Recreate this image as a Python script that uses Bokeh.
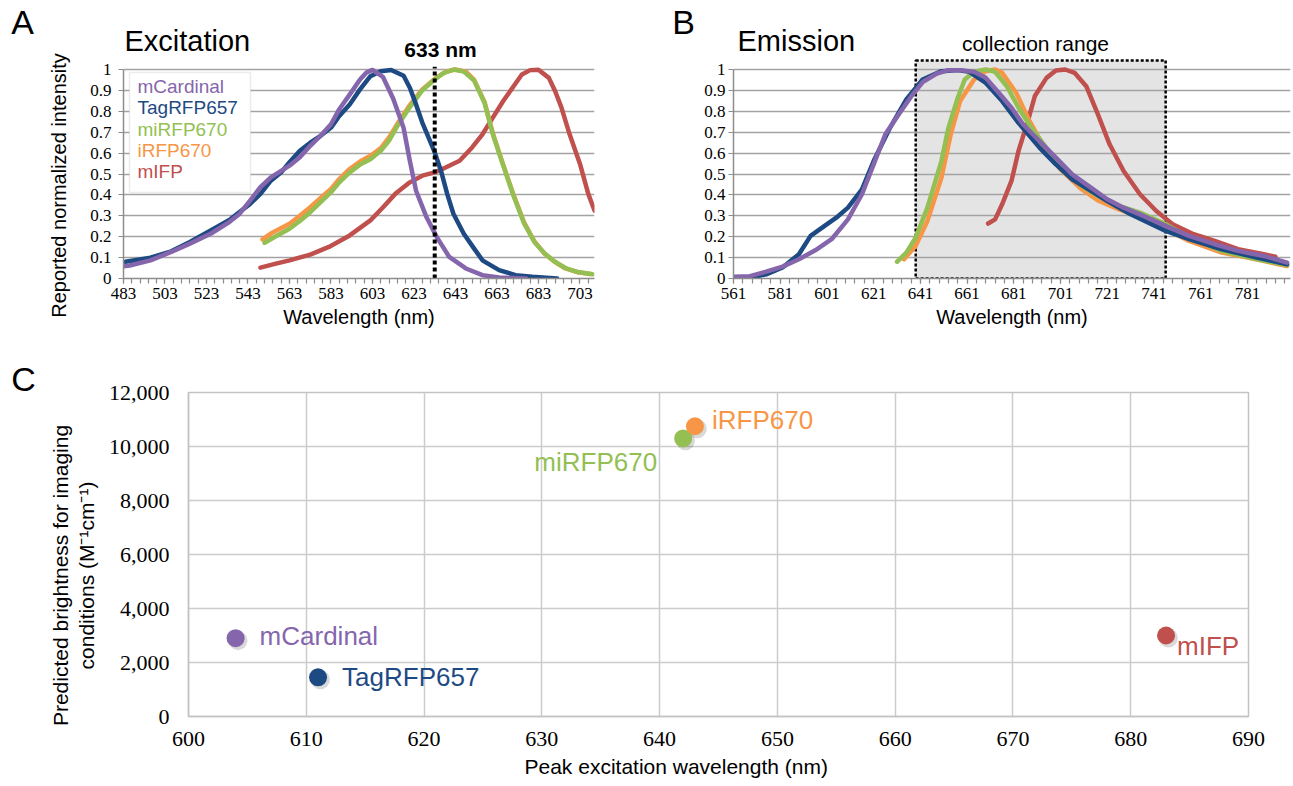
import math
from bokeh.plotting import figure
from bokeh.layouts import column, row
from bokeh.models import (FixedTicker, CustomJSTickFormatter, NumeralTickFormatter,
                          Label, BoxAnnotation, Range1d, Title)
from bokeh.embed import file_html
from bokeh.resources import INLINE
from bokeh.core.properties import value

SANS = "Liberation Sans"
SERIF = "Liberation Serif"

# ---------------- data ----------------
proteins = ["mCardinal", "TagRFP657", "miRFP670", "iRFP670", "mIFP"]
protein_colors = ["#8566ad", "#1e4a84", "#93bf53", "#f79646", "#c0504d"]

# Panel A: excitation spectra (wavelength nm, normalized intensity)
ex_mcardinal_nm = [483, 486, 496, 506, 515, 525, 534, 539, 544, 549, 554, 559, 563, 568, 573, 578, 583, 587,
                   592, 597, 600, 603, 608, 613, 618, 621, 624, 629, 634, 640, 648, 656, 664, 677]
ex_mcardinal = [0.058, 0.062, 0.087, 0.127, 0.167, 0.214, 0.27, 0.31, 0.373, 0.437, 0.484, 0.515, 0.54, 0.58,
                0.635, 0.683, 0.738, 0.81, 0.88, 0.952, 0.985, 0.998, 0.965, 0.86, 0.72, 0.563, 0.42, 0.294,
                0.198, 0.103, 0.048, 0.016, 0.005, 0.0]
ex_tagrfp657_nm = [484, 496, 506, 515, 525, 534, 544, 549, 554, 559, 563, 568, 573, 578, 583, 587, 592, 597,
                   602, 607, 612, 618, 621, 624, 627, 630, 633, 636, 639, 642, 647, 652, 656, 664, 672, 680, 692]
ex_tagrfp657 = [0.08, 0.1, 0.13, 0.175, 0.23, 0.28, 0.357, 0.405, 0.468, 0.508, 0.556, 0.611, 0.65, 0.683,
                0.722, 0.778, 0.833, 0.905, 0.968, 0.992, 0.998, 0.97, 0.913, 0.833, 0.746, 0.675, 0.603,
                0.516, 0.405, 0.31, 0.214, 0.143, 0.087, 0.04, 0.016, 0.008, 0.0]
ex_mirfp670_nm = [551, 556, 563, 568, 573, 578, 583, 587, 592, 597, 602, 607, 611, 615, 621, 627, 633, 637,
                  642, 647, 652, 657, 661, 666, 671, 676, 681, 686, 691, 696, 702, 709]
ex_mirfp670 = [0.171, 0.2, 0.238, 0.275, 0.317, 0.365, 0.413, 0.46, 0.508, 0.545, 0.571, 0.611, 0.66, 0.73,
               0.82, 0.9, 0.952, 0.982, 1.0, 0.99, 0.947, 0.84, 0.69, 0.54, 0.395, 0.265, 0.175, 0.12, 0.08,
               0.05, 0.031, 0.02]
ex_irfp670_nm = [550, 554, 563, 568, 573, 578, 583, 587, 592, 597, 602, 607, 611, 615, 621, 627, 633, 638,
                 643, 648, 652, 657, 661, 666, 671, 676, 681, 686, 691, 696, 702, 708]
ex_irfp670 = [0.187, 0.215, 0.262, 0.3, 0.341, 0.385, 0.429, 0.476, 0.524, 0.56, 0.587, 0.624, 0.675, 0.74,
              0.83, 0.905, 0.955, 0.988, 1.0, 0.99, 0.95, 0.845, 0.695, 0.545, 0.4, 0.27, 0.178, 0.118,
              0.078, 0.048, 0.03, 0.022]
ex_mifp_nm = [549, 556, 563, 573, 582, 592, 602, 608, 614, 621, 627, 633, 638, 645, 651, 656, 661, 666, 671,
              675, 679, 683, 688, 691, 694, 698, 703, 707, 710]
ex_mifp = [0.052, 0.07, 0.087, 0.114, 0.151, 0.206, 0.278, 0.34, 0.405, 0.46, 0.492, 0.508, 0.53, 0.563,
           0.627, 0.69, 0.77, 0.849, 0.92, 0.976, 0.997, 0.999, 0.96, 0.897, 0.82, 0.69, 0.548, 0.405, 0.325]

# Panel B: emission spectra
em_mcardinal_nm = [561, 568, 575, 582, 589, 596, 603, 610, 616, 621, 626, 632, 637, 642, 648, 653, 658, 664,
                   669, 674, 680, 685, 692, 699, 706, 714, 721, 728, 735, 746, 756, 767, 777, 788, 798]
em_mcardinal = [0.008, 0.011, 0.033, 0.057, 0.092, 0.135, 0.188, 0.283, 0.403, 0.546, 0.69, 0.79, 0.87, 0.94,
                0.98, 0.997, 0.997, 0.989, 0.96, 0.896, 0.817, 0.737, 0.658, 0.578, 0.498, 0.435, 0.379,
                0.339, 0.307, 0.252, 0.204, 0.164, 0.132, 0.108, 0.076]
em_tagrfp657_nm = [567, 575, 582, 589, 594, 600, 605, 610, 616, 621, 628, 635, 642, 650, 657, 662, 669, 676,
                   683, 692, 699, 706, 714, 721, 731, 746, 756, 770, 785, 798]
em_tagrfp657 = [0.0, 0.02, 0.053, 0.116, 0.204, 0.252, 0.291, 0.339, 0.427, 0.562, 0.721, 0.857, 0.952,
                0.992, 0.997, 0.989, 0.936, 0.849, 0.745, 0.626, 0.546, 0.475, 0.419, 0.371, 0.307, 0.228,
                0.188, 0.14, 0.1, 0.068]
em_mirfp670_nm = [631, 635, 639, 644, 650, 653, 657, 660, 664, 669, 673, 678, 683, 689, 696, 703, 710, 717,
                  726, 735, 746, 756, 770, 785, 798]
em_mirfp670 = [0.08, 0.124, 0.196, 0.339, 0.562, 0.721, 0.865, 0.952, 0.989, 1.0, 0.989, 0.92, 0.817, 0.713,
               0.61, 0.514, 0.443, 0.395, 0.347, 0.315, 0.26, 0.196, 0.132, 0.092, 0.064]
em_irfp670_nm = [634, 639, 644, 650, 654, 658, 664, 669, 673, 676, 682, 687, 694, 701, 710, 717, 726, 735,
                 746, 756, 770, 781, 798]
em_irfp670 = [0.092, 0.156, 0.275, 0.482, 0.69, 0.849, 0.952, 0.992, 1.0, 0.984, 0.889, 0.769, 0.626, 0.522,
              0.427, 0.374, 0.331, 0.295, 0.236, 0.18, 0.124, 0.1, 0.06]
em_mifp_nm = [670, 673, 676, 680, 683, 687, 690, 695, 699, 703, 707, 712, 717, 722, 728, 735, 742, 749, 758,
              767, 777, 788, 793]
em_mifp = [0.263, 0.283, 0.355, 0.467, 0.61, 0.753, 0.873, 0.96, 0.995, 1.0, 0.984, 0.92, 0.785, 0.642,
           0.514, 0.403, 0.323, 0.26, 0.212, 0.18, 0.14, 0.116, 0.104]

# Panel C: peak excitation vs predicted brightness
peak_excitation_nm = [604, 611, 642, 643, 683]
predicted_brightness = [2900, 1450, 10300, 10750, 3000]

laser_nm = 633
collection_range_nm = [639, 746]

ex_major_ticks = list(range(483, 704, 20))
ex_minor_ticks = list(range(483, 711, 4))
em_major_ticks = list(range(561, 782, 20))
em_minor_ticks = list(range(561, 800, 4))
intensity_ticks = [0, 0.1, 0.2, 0.3, 0.4, 0.5, 0.6, 0.7, 0.8, 0.9, 1]
c_x_ticks = list(range(600, 691, 10))
c_y_ticks = list(range(0, 12001, 2000))

ex_series = [(ex_mcardinal_nm, ex_mcardinal), (ex_tagrfp657_nm, ex_tagrfp657),
             (ex_mirfp670_nm, ex_mirfp670), (ex_irfp670_nm, ex_irfp670), (ex_mifp_nm, ex_mifp)]
em_series = [(em_mcardinal_nm, em_mcardinal), (em_tagrfp657_nm, em_tagrfp657),
             (em_mirfp670_nm, em_mirfp670), (em_irfp670_nm, em_irfp670), (em_mifp_nm, em_mifp)]
draw_order = [4, 3, 2, 1, 0]

# ---------------- geometry (page pixels, origin top-left) ----------------
TOTAL_W = 1291
TOP_TOTAL = 335        # height of the spectra row
FRAME_TOP = 14         # frame extends above the "1" gridline to host the titles
ZERO_PX = 278          # page y of intensity 0
PX_PER_UNIT = 209.0    # pixels per intensity unit
FH = ZERO_PX - FRAME_TOP
Y_TOP = FH / PX_PER_UNIT
LEFT_A_W = 75
A_X0, A_X1, A_FW = 483, 710, 471
A_FRAME_LEFT = 123
A_W = 660 - LEFT_A_W
LEFT_B_W = 38
B_PPN = 2.336
B_FW = 557
B_X0 = 561
B_X1 = B_X0 + B_FW / B_PPN
B_FRAME_LEFT = 733
B_W = TOTAL_W - 660 - LEFT_B_W
C_H = 451
LEFT_C_W = 100


def ax(px):
    return A_X0 + (px - A_FRAME_LEFT) * (A_X1 - A_X0) / A_FW


def bx(px):
    return B_X0 + (px - B_FRAME_LEFT) / B_PPN


def sy(py):
    return (ZERO_PX - py) / PX_PER_UNIT


def box(item):
    return column(item)


def text_strip(w, h):
    p = figure(width=w, height=h, x_range=Range1d(0, w), y_range=Range1d(0, h), min_border=0,
               x_axis_type=None, y_axis_type=None, toolbar_location=None, outline_line_color=None,
               output_backend="svg", background_fill_color="white", border_fill_color="white")
    return p


def strip_text(p, h, x, y_down, text, size, align="left", angle=0.0):
    p.text(x=[x], y=[h - y_down], text=[text], text_font=value(SANS), text_font_size=size,
           text_align=align, text_baseline="middle", angle=angle, text_color="black")


def add_label(p, x, y, text, size, color="black", align="left", bold=False):
    p.add_layout(Label(x=x, y=y, text=text, text_font=SANS, text_font_size=size,
                       text_color=color, text_align=align, text_baseline="middle",
                       text_font_style="bold" if bold else "normal"))


def spectrum_fig(x0, x1, frame_w, left, right, major, minor, ylab_standoff):
    p = figure(frame_width=frame_w, frame_height=FH, x_range=Range1d(x0, x1),
               y_range=Range1d(0, Y_TOP), min_border_left=left, min_border_right=right,
               min_border_top=FRAME_TOP, min_border_bottom=TOP_TOTAL - ZERO_PX,
               output_backend="svg", toolbar_location=None, outline_line_color=None,
               background_fill_color="white", border_fill_color="white")
    xa = p.xaxis[0]
    ya = p.yaxis[0]
    xa.ticker = FixedTicker(ticks=major, minor_ticks=minor)
    for a in (xa, ya):
        a.axis_line_color = "#8c8c8c"
        a.axis_line_width = 1.5
        a.major_tick_line_color = "#8c8c8c"
        a.minor_tick_line_color = "#8c8c8c"
        a.major_tick_line_width = 1.2
        a.minor_tick_line_width = 1.2
        a.major_tick_in = 0
        a.minor_tick_in = 0
        a.major_tick_out = 5
        a.minor_tick_out = 5
        a.major_label_text_font = SERIF
        a.major_label_text_font_size = "17px"
        a.major_label_text_color = "black"
    xa.major_label_standoff = 4
    xa.axis_label = "Wavelength (nm)"
    xa.axis_label_text_font = SANS
    xa.axis_label_text_font_size = "20px"
    xa.axis_label_text_font_style = "normal"
    xa.axis_label_text_color = "black"
    xa.axis_label_standoff = 4
    ya.ticker = FixedTicker(ticks=intensity_ticks, minor_ticks=[])
    ya.formatter = CustomJSTickFormatter(code="return String(Math.round(tick * 10) / 10);")
    ya.bounds = (0, 1)
    ya.minor_tick_out = 0
    ya.major_label_standoff = ylab_standoff
    p.xgrid.visible = False
    p.ygrid.grid_line_color = "#a3a3a3"
    p.ygrid.grid_line_width = 1.5
    return p


# ---------------- Panel A ----------------
leftA = text_strip(LEFT_A_W, TOP_TOTAL)
strip_text(leftA, TOP_TOTAL, 22, 21.5, "A", "34px", align="center")
strip_text(leftA, TOP_TOTAL, 58, 185, "Reported normalized intensity", "20px",
           align="center", angle=math.pi / 2)

pA = spectrum_fig(A_X0, A_X1, A_FW, A_FRAME_LEFT - LEFT_A_W, A_W - (A_FRAME_LEFT - LEFT_A_W) - A_FW,
                  ex_major_ticks, ex_minor_ticks, 7)
for i in draw_order:
    xs, ys = ex_series[i]
    pA.line(xs, ys, line_color=protein_colors[i], line_width=4.5, line_join="round", line_cap="round")
pA.segment(x0=[laser_nm], y0=[0], x1=[laser_nm], y1=[1.013], line_color="black",
           line_width=4, line_dash="4 3")

pA.add_layout(BoxAnnotation(left=ax(129), right=ax(250), top=sy(72), bottom=sy(192),
                            fill_color="white", fill_alpha=1.0, line_color="#bfbfbf",
                            line_width=1.5))
for k, name in enumerate(proteins):
    add_label(pA, ax(137), sy(86 + 21.3 * k), name, "19px", color=protein_colors[k])
add_label(pA, ax(124), sy(40.5), "Excitation", "29px")
add_label(pA, ax(440), sy(49), "633 nm", "21px", align="center", bold=True)

# ---------------- Panel B ----------------
leftB = text_strip(LEFT_B_W, TOP_TOTAL)
strip_text(leftB, TOP_TOTAL, 23, 21.5, "B", "34px", align="center")

pB = spectrum_fig(B_X0, B_X1, B_FW, B_FRAME_LEFT - 660 - LEFT_B_W,
                  B_W - (B_FRAME_LEFT - 660 - LEFT_B_W) - B_FW, em_major_ticks, em_minor_ticks, 3)
pB.quad(left=[collection_range_nm[0]], right=[collection_range_nm[1]], bottom=[0], top=[1.043],
        fill_color="#e4e4e4", line_color=None, level="image")
pB.quad(left=[collection_range_nm[0]], right=[collection_range_nm[1]], bottom=[0], top=[1.043],
        fill_color=None, line_color="black", line_width=2.5, line_dash="3 2")
for i in draw_order:
    xs, ys = em_series[i]
    pB.line(xs, ys, line_color=protein_colors[i], line_width=4.5, line_join="round", line_cap="round")
add_label(pB, bx(737), sy(40.5), "Emission", "29px")
add_label(pB, bx(1035), sy(43), "collection range", "21px", align="center")

# ---------------- Panel C ----------------
C_TOP = TOP_TOTAL
leftC = text_strip(LEFT_C_W, C_H)
strip_text(leftC, C_H, 23, 378 - C_TOP, "C", "34px", align="center")
strip_text(leftC, C_H, 60, 575 - C_TOP, "Predicted brightness for imaging", "21px",
           align="center", angle=math.pi / 2)
strip_text(leftC, C_H, 86, 575 - C_TOP, "conditions (M\u207b\u00b9cm\u207b\u00b9)", "21px",
           align="center", angle=math.pi / 2)

C_FRAME_TOP = 392
C_FRAME_H = 324
pC = figure(frame_width=1060, frame_height=C_FRAME_H, x_range=Range1d(600, 690),
            y_range=Range1d(0, 12000),
            min_border_left=188 - LEFT_C_W, min_border_right=TOTAL_W - 1248,
            min_border_top=C_FRAME_TOP - C_TOP,
            min_border_bottom=C_H - C_FRAME_H - (C_FRAME_TOP - C_TOP),
            output_backend="svg", toolbar_location=None, outline_line_color="#c3c3c3",
            outline_line_width=1.5, background_fill_color="white", border_fill_color="white")
pC.xaxis[0].ticker = FixedTicker(ticks=c_x_ticks, minor_ticks=[])
pC.yaxis[0].ticker = FixedTicker(ticks=c_y_ticks, minor_ticks=[])
pC.yaxis[0].formatter = NumeralTickFormatter(format="0,0")
for a in (pC.xaxis[0], pC.yaxis[0]):
    a.axis_line_color = "#c3c3c3"
    a.axis_line_width = 1.5
    a.major_tick_in = 0
    a.major_tick_out = 0
    a.minor_tick_in = 0
    a.minor_tick_out = 0
    a.major_label_text_font = SERIF
    a.major_label_text_font_size = "22px"
    a.major_label_text_color = "black"
pC.xaxis[0].major_label_standoff = 15
pC.yaxis[0].major_label_standoff = 19
for g in (pC.xgrid[0], pC.ygrid[0]):
    g.grid_line_color = "#cccccc"
    g.grid_line_width = 1.5
pC.add_layout(Title(text="Peak excitation wavelength (nm)", align="left", offset=524 - 188,
                    text_font=SANS, text_font_size="21px", text_font_style="normal",
                    text_color="black", standoff=8), "below")

shadow_x = [v + 0.2 for v in peak_excitation_nm]
shadow_y = [v - 90 for v in predicted_brightness]
pC.scatter(shadow_x, shadow_y, size=19, fill_color="#000000", fill_alpha=0.15, line_color=None)
pC.scatter(peak_excitation_nm, predicted_brightness, size=18, fill_color=protein_colors,
           line_color=None)

label_style = {
    "mCardinal": (24, -2, "left"),
    "TagRFP657": (24, 0, "left"),
    "miRFP670": (-26, 24, "right"),
    "iRFP670": (17, -6, "left"),
    "mIFP": (11, 10, "left"),
}
for name, xv, yv, col in zip(proteins, peak_excitation_nm, predicted_brightness, protein_colors):
    dx, dy, al = label_style[name]
    pC.text(x=[xv], y=[yv], text=[name], x_offset=dx, y_offset=dy, text_align=al,
            text_baseline="middle", text_font=value(SANS), text_font_size="26px", text_color=col)

top = row(box(leftA), box(pA), box(leftB), box(pB))
bottom = row(box(leftC), box(pC))
layout = column(top, bottom)
open("out.html", "w").write(file_html(layout, INLINE))
